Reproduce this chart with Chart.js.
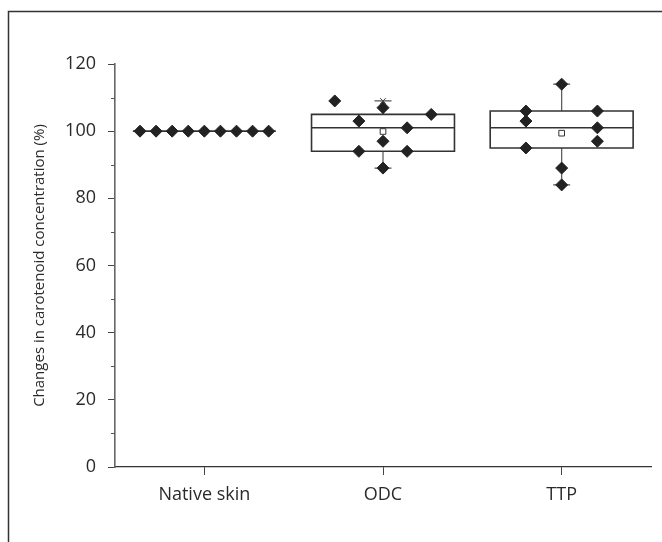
<!DOCTYPE html>
<html><head><meta charset="utf-8">
<script src="https://cdn.jsdelivr.net/npm/chart.js@4/dist/chart.umd.min.js"></script>
<style>html,body{margin:0;padding:0;background:#fff}#wrap{width:662px;height:542px;position:relative}</style>
</head><body><div id="wrap"><canvas id="c"></canvas></div>
<script>
// ---- data ----
const categories = ['Native skin', 'ODC', 'TTP'];
const nativeSkinValues = [100, 100, 100, 100, 100, 100, 100, 100, 100];
const odcValues = [109, 103, 107, 101, 105, 97, 94, 94, 89];
const ttpValues = [114, 106, 103, 106, 101, 97, 95, 89, 84];
const boxQ1 = [100, 94, 95];
const boxMedian = [100, 101, 101];
const boxQ3 = [100, 105, 106];
const whiskerLow = [100, 89, 84];
const whiskerHigh = [100, 109, 114];
const groupMeans = [100, 99.9, 99.4];
const capMarks = [null, 109, null];
const yTickValues = [0, 20, 40, 60, 80, 100, 120];

// ---- layout (not data) ----
const jitterSlots = [[-4,-3,-2,-1,0,1,2,3,4], [-2,-1,0,1,2,0,-1,1,0], [0,-1,-1,1,1,1,-1,0,0]];
const jitterStep = [0.09, 0.135, 0.2];
const boxHalf = 0.4;
const capHalfPx = 8.5;
const ink = '#222';
const textCol = '#2a2a2a';
const FONT = '"Open Sans", "Noto Sans", sans-serif';

const groups = [nativeSkinValues, odcValues, ttpValues];
const pointData = groups.map((vals, g) => vals.map((v, k) => ({x: g + 1 + jitterSlots[g][k] * jitterStep[g], y: v})));

const framePlugin = {
  id: 'frame',
  beforeDraw(chart) {
    const ctx = chart.ctx;
    ctx.save();
    ctx.strokeStyle = '#333';
    ctx.lineWidth = 1.5;
    ctx.beginPath();
    ctx.moveTo(8.5, 542); ctx.lineTo(8.5, 11.5); ctx.lineTo(662, 11.5);
    ctx.stroke();
    ctx.restore();
  }
};

const minorTickPlugin = {
  id: 'minorTicks',
  afterDraw(chart) {
    const y = chart.scales.y, ctx = chart.ctx;
    ctx.save();
    ctx.strokeStyle = '#555';
    ctx.lineWidth = 1;
    for (let i = 0; i < yTickValues.length - 1; i++) {
      const v = (yTickValues[i] + yTickValues[i + 1]) / 2;
      const py = Math.round(y.getPixelForValue(v)) + 0.5;
      ctx.beginPath();
      ctx.moveTo(y.right - 4, py); ctx.lineTo(y.right, py);
      ctx.stroke();
    }
    ctx.restore();
  }
};

const boxPlugin = {
  id: 'boxes',
  beforeDatasetsDraw(chart) {
    const xs = chart.scales.x, ys = chart.scales.y, ctx = chart.ctx;
    ctx.save();
    for (let i = 0; i < categories.length; i++) {
      const cx = xs.getPixelForValue(i + 1);
      const x0 = xs.getPixelForValue(i + 1 - boxHalf);
      const x1 = xs.getPixelForValue(i + 1 + boxHalf);
      const pQ1 = ys.getPixelForValue(boxQ1[i]);
      const pQ3 = ys.getPixelForValue(boxQ3[i]);
      const pMed = ys.getPixelForValue(boxMedian[i]);
      const pLo = ys.getPixelForValue(whiskerLow[i]);
      const pHi = ys.getPixelForValue(whiskerHigh[i]);
      ctx.strokeStyle = '#555';
      ctx.lineWidth = 1.2;
      ctx.beginPath();
      if (pHi < pQ3) {
        ctx.moveTo(cx, pQ3); ctx.lineTo(cx, pHi);
        ctx.moveTo(cx - capHalfPx, pHi); ctx.lineTo(cx + capHalfPx, pHi);
      }
      if (pLo > pQ1) {
        ctx.moveTo(cx, pQ1); ctx.lineTo(cx, pLo);
        ctx.moveTo(cx - capHalfPx, pLo); ctx.lineTo(cx + capHalfPx, pLo);
      }
      ctx.stroke();
      ctx.strokeStyle = '#333';
      ctx.lineWidth = 1.6;
      ctx.beginPath();
      if (pQ1 - pQ3 > 0.5) {
        ctx.rect(x0, pQ3, x1 - x0, pQ1 - pQ3);
      }
      ctx.moveTo(x0, pMed); ctx.lineTo(x1, pMed);
      ctx.stroke();
    }
    ctx.restore();
  }
};

const datasets = pointData.map((pts, g) => ({
  type: 'scatter',
  label: categories[g],
  data: pts,
  pointStyle: 'rectRot',
  pointRadius: 6,
  pointHoverRadius: 6,
  backgroundColor: ink,
  borderColor: ink,
  borderWidth: 1,
  order: 1
}));
datasets.push({
  type: 'scatter',
  label: 'mean',
  data: groupMeans.map((m, i) => ({x: i + 1, y: m})),
  pointStyle: 'rect',
  pointRadius: 4,
  backgroundColor: '#fff',
  borderColor: '#333',
  borderWidth: 1,
  order: 2
});
datasets.push({
  type: 'scatter',
  label: 'cap',
  data: capMarks.map((m, i) => m === null ? null : ({x: i + 1, y: m})).filter(p => p),
  pointStyle: 'crossRot',
  pointRadius: 4,
  borderColor: '#444',
  borderWidth: 1,
  order: 0
});

Chart.defaults.font.family = FONT;
Chart.defaults.color = textCol;

new Chart(document.getElementById('c'), {
  type: 'scatter',
  data: {datasets},
  options: {
    responsive: true,
    maintainAspectRatio: false,
    animation: false,
    events: [],
    layout: {padding: {left: 0, top: 64, right: 11, bottom: 0}},
    plugins: {legend: {display: false}, tooltip: {enabled: false}},
    scales: {
      x: {
        type: 'linear',
        min: 0.5, max: 3.5,
        afterBuildTicks: s => { s.ticks = categories.map((c, i) => ({value: i + 1})); },
        afterFit: s => { s.height = 75; },
        ticks: {
          autoSkip: false,
          maxRotation: 0,
          padding: 9,
          color: textCol,
          font: {size: 18},
          callback: v => categories[v - 1]
        },
        grid: {drawOnChartArea: false, drawTicks: true, tickLength: 8, tickColor: '#444', tickWidth: 1},
        border: {color: '#333', width: 1.2}
      },
      y: {
        type: 'linear',
        min: 0, max: 120,
        afterBuildTicks: s => { s.ticks = yTickValues.map(v => ({value: v})); },
        afterFit: s => { s.width = 115; },
        ticks: {autoSkip: false, padding: 12, color: textCol, font: {size: 18}},
        grid: {drawOnChartArea: false, drawTicks: true, tickLength: 7, tickColor: '#444', tickWidth: 1},
        border: {color: '#666', width: 1.6},
        title: {
          display: true,
          text: 'Changes in carotenoid concentration (%)',
          color: textCol,
          font: {size: 15},
          padding: {top: 31, bottom: 0}
        }
      }
    }
  },
  plugins: [framePlugin, boxPlugin, minorTickPlugin]
});
</script>
</body></html>
